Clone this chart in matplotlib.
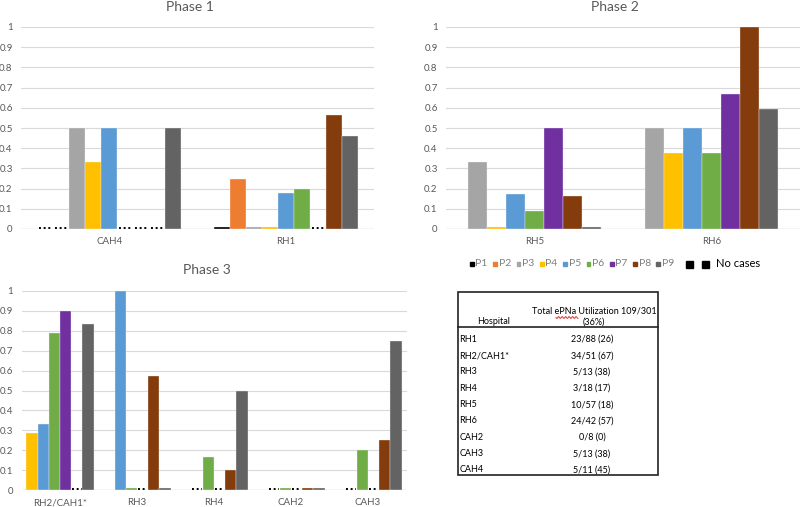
import numpy as np
import matplotlib.pyplot as plt
from matplotlib.patches import Rectangle

plt.rcParams['font.family'] = ['Lato', 'DejaVu Sans']

NC = 'nc'  # no cases

series = ['P1', 'P2', 'P3', 'P4', 'P5', 'P6', 'P7', 'P8', 'P9']
colors = ['#000000', '#ED7D31', '#A5A5A5', '#FFC000', '#5B9BD5',
          '#70AD47', '#7030A0', '#843C0C', '#636363']

# Phase 1 : P1..P9
phase1_hosp = ['CAH4', 'RH1']
phase1_cah4 = [NC, NC, 0.5, 0.333, 0.5, NC, NC, NC, 0.5]
phase1_rh1 = [0.008, 0.25, 0.008, 0.008, 0.18, 0.2, NC, 0.563, 0.462]

# Phase 2 : P3..P9
phase2_hosp = ['RH5', 'RH6']
phase2_rh5 = [0.333, 0.008, 0.175, 0.09, 0.5, 0.165, 0.008]
phase2_rh6 = [0.5, 0.375, 0.5, 0.375, 0.667, 1.0, 0.595]

# Phase 3 : P4..P9
phase3_hosp = ['RH2/CAH1*', 'RH3', 'RH4', 'CAH2', 'CAH3']
phase3_rh2 = [0.286, 0.333, 0.789, 0.9, NC, 0.833]
phase3_rh3 = [np.nan, 1.0, 0.008, NC, 0.571, 0.008]
phase3_rh4 = [np.nan, NC, 0.167, NC, 0.1, 0.5]
phase3_cah2 = [np.nan, NC, 0.008, NC, 0.008, 0.008]
phase3_cah3 = [np.nan, NC, 0.2, NC, 0.25, 0.75]

table_hosp = ['RH1', 'RH2/CAH1*', 'RH3', 'RH4', 'RH5', 'RH6', 'CAH2', 'CAH3', 'CAH4']
table_util = ['23/88 (26)', '34/51 (67)', '5/13 (38)', '3/18 (17)', '10/57 (18)',
              '24/42 (57)', '0/8 (0)', '5/13 (38)', '5/11 (45)']

W, H = 800, 507
fig = plt.figure(figsize=(8, 5.07), dpi=100)


def fx(x):
    return x / W


def fy(y):
    return 1 - y / H


def phase_plot(rect, title, title_xy, hosp, groups, first, width):
    ax = fig.add_axes(rect)
    names = series[first:]
    cols = colors[first:]
    n = len(names)
    xs = np.arange(len(hosp))
    for i in range(n):
        off = (i - (n - 1) / 2) * width
        vals = []
        for g in groups:
            v = g[i]
            vals.append(np.nan if v == NC else v)
        ax.bar(xs + off, vals, width, color=cols[i], edgecolor='#F4F4F4',
               linewidth=0.25, zorder=3)
        for j, g in enumerate(groups):
            if g[i] == NC:
                ax.plot([xs[j] + off - width / 2 + 0.01, xs[j] + off + width / 2 - 0.01],
                        [0.004, 0.004], color='black', lw=1.4,
                        linestyle=(0, (1, 1.4)), zorder=4, solid_capstyle='butt',
                        clip_on=False)
    ax.set_xlim(-0.5, len(hosp) - 0.5)
    ax.set_ylim(0, 1)
    ax.set_yticks(np.arange(0, 1.01, 0.1))
    ax.set_yticklabels(['0'] + ['%.1f' % t for t in np.arange(0.1, 0.95, 0.1)] + ['1'])
    ax.set_xticks(xs)
    ax.set_xticklabels(hosp)
    ax.tick_params(length=0, colors='#595959', labelsize=7)
    ax.tick_params(axis='x', pad=6)
    ax.tick_params(axis='y', pad=6)
    for s in ax.spines.values():
        s.set_visible(False)
    ax.grid(axis='y', color='#D9D9D9', lw=0.8, zorder=0)
    ax.axhline(0, color='#D9D9D9', lw=1, zorder=1)
    fig.text(fx(title_xy[0]), fy(title_xy[1]), title, ha='center', va='center',
             fontsize=10, color='#595959')
    return ax


phase_plot([fx(21), fy(229), fx(353), (229 - 27) / H], 'Phase 1', (190, 7),
           phase1_hosp, [phase1_cah4, phase1_rh1], 0, 0.0909)
phase_plot([fx(446), fy(229), fx(354), (229 - 27) / H], 'Phase 2', (615, 7),
           phase2_hosp, [phase2_rh5, phase2_rh6], 2, 0.108)
phase_plot([fx(21.5), fy(490), fx(385), (490 - 291) / H], 'Phase 3', (207, 270),
           phase3_hosp, [phase3_rh2, phase3_rh3, phase3_rh4, phase3_cah2, phase3_cah3],
           3, 0.146)

# legend
for i, (name, c) in enumerate(zip(series, colors)):
    x0 = 470 + i * 23.3
    fig.patches.append(Rectangle((fx(x0), fy(266)), fx(3.8), 3.8 / H, color=c,
                                 transform=fig.transFigure, figure=fig))
    fig.text(fx(x0 + 5.5), fy(264), name, ha='left', va='center', fontsize=7.5,
             color='#7F7F7F')
for x0 in (686, 702):
    fig.patches.append(Rectangle((fx(x0), fy(267.5)), fx(6.7), 6.7 / H, color='black',
                                 transform=fig.transFigure, figure=fig))
fig.text(fx(716.5), fy(263.5), 'No cases', ha='left', va='center', fontsize=8,
         color='black')

# table
fig.patches.append(Rectangle((fx(458), fy(475)), fx(200), (475 - 292) / H,
                             fill=False, edgecolor='#222222', lw=1.2,
                             transform=fig.transFigure, figure=fig))
fig.lines.append(plt.Line2D([fx(458), fx(658)], [fy(327), fy(327)], color='#222222',
                            lw=1.2, transform=fig.transFigure, figure=fig))
fig.text(fx(477), fy(322), 'Hospital', ha='left', va='center', fontsize=6.5)
fig.text(fx(594), fy(311.5), 'Total ePNa Utilization 109/301', ha='center',
         va='center', fontsize=6.5)
fig.text(fx(594), fy(322), '(36%)', ha='center', va='center', fontsize=6.5)
wx = np.linspace(556, 578, 60)
wy = 317.5 + 0.9 * np.sin((wx - 556) * 2 * np.pi / 3.5)
fig.lines.append(plt.Line2D(fx(wx), fy(wy), color='#E03030', lw=0.7,
                            transform=fig.transFigure, figure=fig))
for k, (h, u) in enumerate(zip(table_hosp, table_util)):
    yy = 339.3 + k * 16.33
    fig.text(fx(459.5), fy(yy), h, ha='left', va='center', fontsize=6.5)
    fig.text(fx(592), fy(yy), u, ha='center', va='center', fontsize=6.5)

fig.savefig('out.png', dpi=100, facecolor='white')
